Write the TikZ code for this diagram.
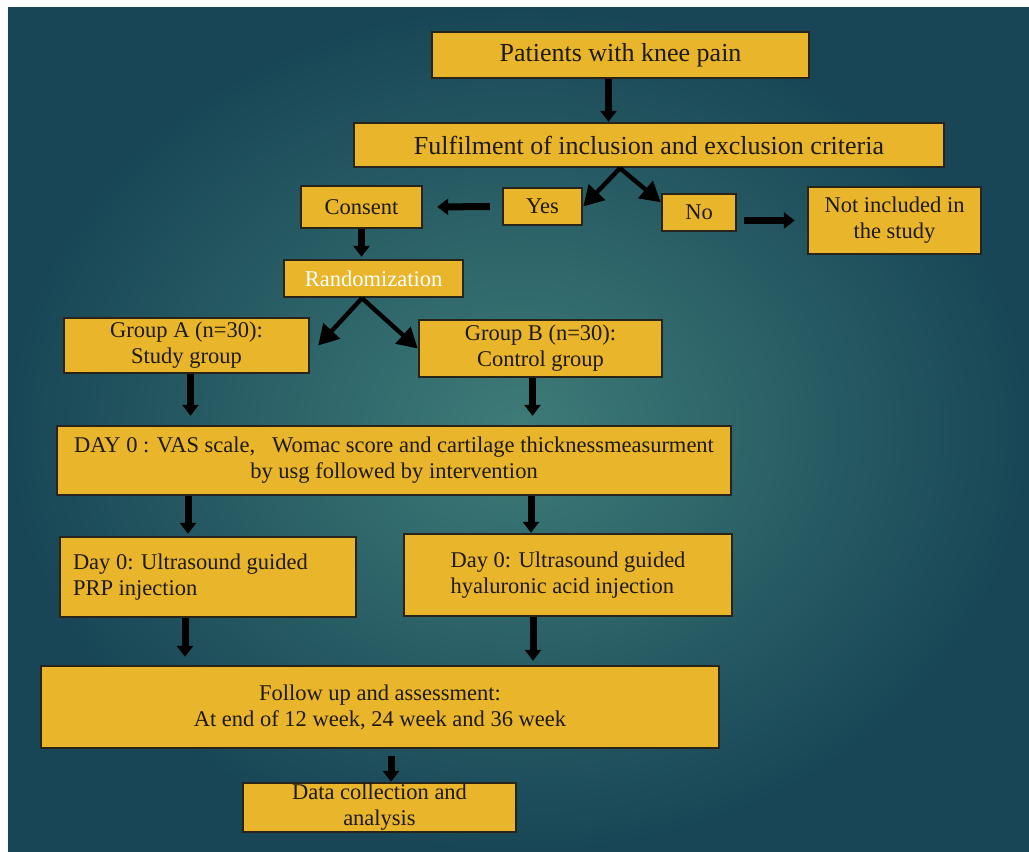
\documentclass[tikz,border=0pt]{standalone}
\usepackage{fontspec}
\setmainfont{Liberation Serif}
\usetikzlibrary{arrows.meta}

\definecolor{gold}{RGB}{233,181,43}
\definecolor{edge}{RGB}{40,36,26}
\definecolor{ink}{RGB}{30,26,16}
\definecolor{tealin}{RGB}{62,124,120}
\definecolor{tealout}{RGB}{24,70,86}

\tikzset{
  stage/.style={draw=edge, line width=1.2pt, fill=gold, inner sep=0pt, align=center,
    text=ink, font=\fontsize{11.25}{13}\selectfont},
  bigtext/.style={font=\fontsize{13}{15}\selectfont},
  flow/.style={line width=3.5pt, -{Triangle[width=8pt,length=5.5pt]}},
  fork/.style={line width=2.2pt, -{Triangle[width=11pt,length=10pt]}},
}

\begin{document}
\begin{tikzpicture}[x=0.5pt, y=-0.5pt]
\useasboundingbox (0,0) rectangle (1029,852);
\fill[white] (0,0) rectangle (1029,852);
\shade[inner color=tealin, outer color=tealout] (8,7) rectangle (1029,852);

\node[stage, bigtext, minimum width=188.5pt, minimum height=23pt] (pat) at (620.5,55) {Patients with knee pain};
\node[stage, bigtext, minimum width=295pt, minimum height=22pt] (fulfil) at (649,145) {Fulfilment of inclusion and exclusion criteria};
\node[stage, minimum width=39.5pt, minimum height=18.5pt] (yes) at (542.5,206.5) {Yes};
\node[stage, minimum width=37pt, minimum height=18.5pt] (no) at (699,212.5) {No};
\node[stage, minimum width=86.5pt, minimum height=33.5pt] (notinc) at (894.5,220.5) {Not included in\\the study};
\node[stage, minimum width=60.5pt, minimum height=21pt] (consent) at (361.5,207) {Consent};
\node[stage, text=white, minimum width=89.5pt, minimum height=18.5pt] (rand) at (373.5,278.5) {Randomization};
\node[stage, minimum width=122.5pt, minimum height=27.5pt] (grpA) at (186.5,345.5) {Group A (n=30):\\Study group};
\node[stage, minimum width=121.5pt, minimum height=28.5pt] (grpB) at (540.5,348.5) {Group B (n=30):\\Control group};
\node[stage, minimum width=337pt, minimum height=34.5pt] (day0) at (394,460.5) {DAY 0 : VAS scale,\ \ \ Womac score and cartilage thicknessmeasurment\\by usg followed by intervention};
\node[stage, align=flush left, text width=135pt, inner xsep=6.5pt, minimum height=40pt] (prp) at (208,577) {Day 0: Ultrasound guided\\PRP injection};
\node[stage, align=left, minimum width=164pt, minimum height=41pt] (hya) at (568,575) {Day 0: Ultrasound guided\\hyaluronic acid injection};
\node[stage, minimum width=339pt, minimum height=41pt] (follow) at (380,707) {Follow up and assessment:\\At end of 12 week, 24 week and 36 week};
\node[stage, minimum width=136.5pt, minimum height=24.5pt] (data) at (379.5,807.5) {Data collection and\\analysis};

\draw[flow] ([xshift=-6pt]pat.south) -- ([xshift=-6pt]pat.south |- fulfil.north);
\draw[fork] ([xshift=-14.5pt]fulfil.south) -- (yes.east);
\draw[fork] ([xshift=-14.5pt]fulfil.south) -- (no.165);
\draw[flow, shorten <=6pt, shorten >=7pt] (yes.west) -- (consent.east);
\draw[flow, shorten <=3.5pt, shorten >=6pt] (no.east |- notinc.west) -- (notinc.west);
\draw[flow, shorten >=1pt] (consent.south) -- (consent.south |- rand.north);
\draw[fork] ([xshift=-5.75pt]rand.south) -- ([xshift=4pt]grpA.east);
\draw[fork] ([xshift=-5.75pt]rand.south) -- (grpB.west);
\draw[flow, shorten >=4.5pt] ([xshift=2pt]grpA.south) -- ([xshift=2pt]grpA.south |- day0.north);
\draw[flow, shorten >=4.5pt] ([xshift=-4pt]grpB.south) -- ([xshift=-4pt]grpB.south |- day0.north);
\draw[flow, shorten >=1pt] ([xshift=-10pt]prp.north |- day0.south) -- ([xshift=-10pt]prp.north);
\draw[flow] ([xshift=-18.5pt]hya.north |- day0.south) -- ([xshift=-18.5pt]hya.north);
\draw[flow, shorten >=4pt] ([xshift=-11.5pt]prp.south) -- ([xshift=-11.5pt]prp.south |- follow.north);
\draw[flow, shorten >=2pt] ([xshift=-17.5pt]hya.south) -- ([xshift=-17.5pt]hya.south |- follow.north);
\draw[flow, shorten <=3.5pt] ([xshift=5.75pt]data.north |- follow.south) -- ([xshift=5.75pt]data.north);
\end{tikzpicture}
\end{document}
